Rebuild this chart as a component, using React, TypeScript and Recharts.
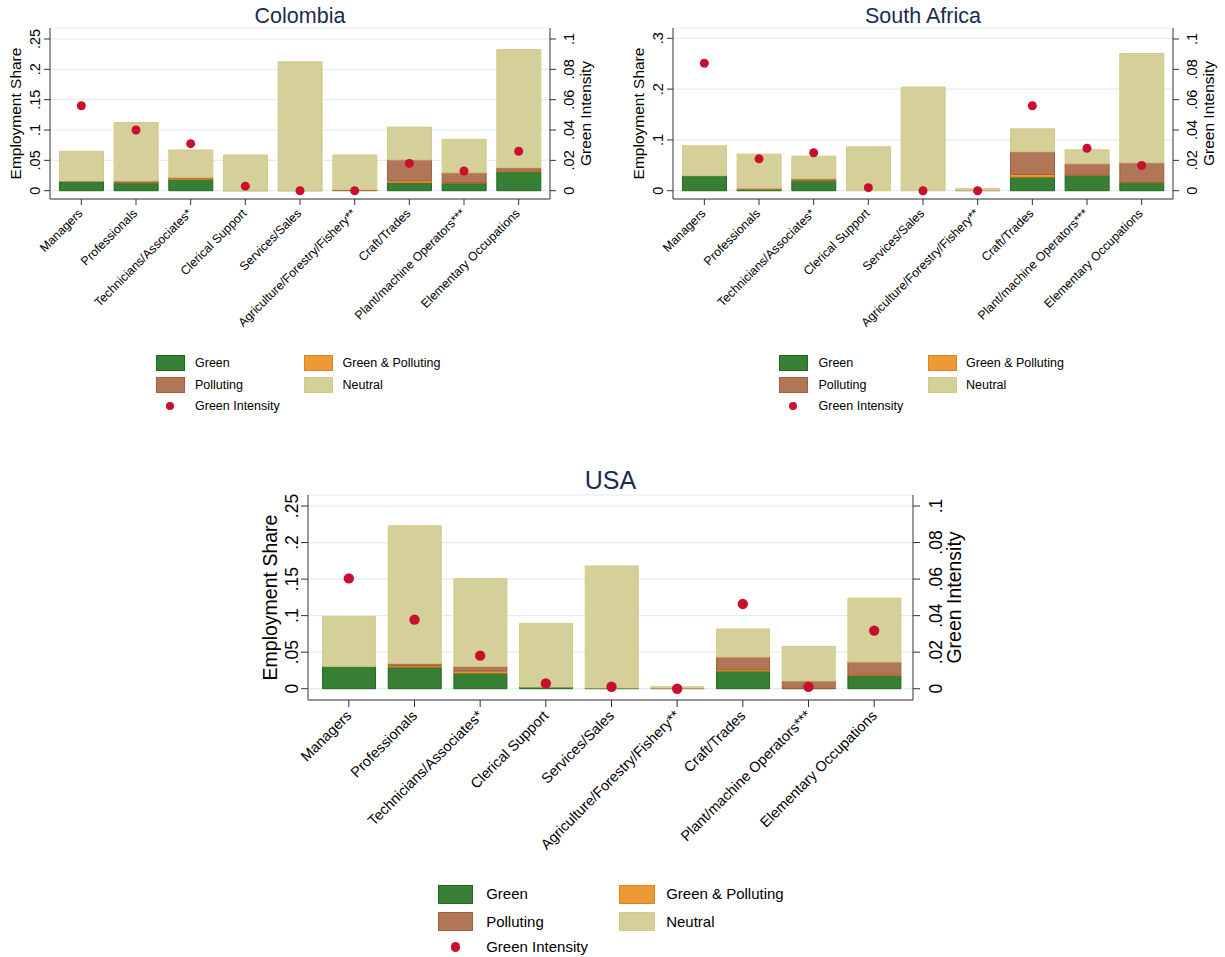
import React from "react";
import { ComposedChart, Bar, Scatter, XAxis, YAxis, CartesianGrid } from "recharts";

const occupations = [
  "Managers",
  "Professionals",
  "Technicians/Associates*",
  "Clerical Support",
  "Services/Sales",
  "Agriculture/Forestry/Fishery**",
  "Craft/Trades",
  "Plant/machine Operators***",
  "Elementary Occupations",
];

// Colombia: employment shares by type, green intensity on the right axis
const colGreen = [0.015, 0.013, 0.019, 0.0005, 0.0005, 0, 0.0136, 0.0126, 0.0317];
const colGreenPolluting = [0, 0.001, 0.002, 0, 0, 0, 0.0028, 0.001, 0.001];
const colPolluting = [0.001, 0.002, 0.001, 0, 0, 0.002, 0.0344, 0.016, 0.0053];
const colNeutral = [0.049, 0.0964, 0.0451, 0.0585, 0.2118, 0.057, 0.054, 0.055, 0.1945];
const colIntensity = [0.056, 0.04, 0.031, 0.003, 0, 0, 0.018, 0.013, 0.026];

// South Africa
const zafGreen = [0.0295, 0.003, 0.0196, 0, 0, 0, 0.0268, 0.0308, 0.0157];
const zafGreenPolluting = [0, 0.001, 0.001, 0, 0, 0, 0.0052, 0.0005, 0.0005];
const zafPolluting = [0, 0.001, 0.003, 0, 0, 0.001, 0.0446, 0.0217, 0.0388];
const zafNeutral = [0.0589, 0.067, 0.0444, 0.0864, 0.204, 0.003, 0.0452, 0.0275, 0.215];
const zafIntensity = [0.084, 0.021, 0.025, 0.002, 0, 0, 0.056, 0.028, 0.0166];

// USA
const usaGreen = [0.0306, 0.0297, 0.0214, 0.0023, 0.001, 0, 0.0242, 0.0005, 0.0182];
const usaGreenPolluting = [0, 0.0019, 0.0028, 0, 0, 0, 0.0018, 0, 0.0005];
const usaPolluting = [0, 0.0031, 0.0064, 0, 0, 0.001, 0.0173, 0.01, 0.0178];
const usaNeutral = [0.0684, 0.1883, 0.1199, 0.0871, 0.167, 0.0017, 0.0384, 0.0475, 0.0875];
const usaIntensity = [0.0604, 0.0378, 0.0181, 0.0029, 0.0011, 0, 0.0464, 0.0011, 0.0318];

const shareTicks = [0, 0.05, 0.1, 0.15, 0.2, 0.25];
const shareTicksZaf = [0, 0.1, 0.2, 0.3];
const intensityTicks = [0, 0.02, 0.04, 0.06, 0.08, 0.1];

const GREEN = "#367f34";
const GREEN_EDGE = "#1f6a1f";
const GP = "#ec9a36";
const GP_EDGE = "#e2821c";
const POLL = "#b07657";
const POLL_EDGE = "#a65d3d";
const NEUTRAL = "#d5cf9a";
const NEUTRAL_EDGE = "#d3ca88";
const DOT = "#c8102e";
const GRID = "#e4ecef";
const AXIS = "#333";
const TITLE = "#1a2c4e";
const FONT = "'Liberation Sans', Arial, Helvetica, sans-serif";

type Row = {
  name: string;
  green: number;
  greenPolluting: number;
  polluting: number;
  neutral: number;
  intensity: number;
};

function buildRows(g: number[], gp: number[], p: number[], n: number[], gi: number[]): Row[] {
  return occupations.map((name, i) => ({
    name,
    green: g[i],
    greenPolluting: gp[i],
    polluting: p[i],
    neutral: n[i],
    intensity: gi[i],
  }));
}

const colRows = buildRows(colGreen, colGreenPolluting, colPolluting, colNeutral, colIntensity);
const zafRows = buildRows(zafGreen, zafGreenPolluting, zafPolluting, zafNeutral, zafIntensity);
const usaRows = buildRows(usaGreen, usaGreenPolluting, usaPolluting, usaNeutral, usaIntensity);

// Stata style: no leading zero
const fmt = (v: number) => (v === 0 ? "0" : String(v).replace(/^0\./, "."));

type Geometry = {
  width: number;
  height: number;
  marginTop: number;
  leftWidth: number;
  rightWidth: number;
  xHeight: number;
  padLeft: number;
  padRight: number;
  tickSize: number;
  tickFont: number;
  catFont: number;
  axisTitleFont: number;
  titleFont: number;
  titleY: number;
  rightShift: number;
  leftTitleX: number;
  rightTitleX: number;
  catDx: number;
  dotR: number;
};

const small: Geometry = {
  width: 610,
  height: 340,
  marginTop: 28,
  leftWidth: 50,
  rightWidth: 60,
  xHeight: 141,
  padLeft: 4,
  padRight: 4,
  tickSize: 6,
  tickFont: 14.5,
  catFont: 12.3,
  axisTitleFont: 15.5,
  titleFont: 21.5,
  titleY: 22.5,
  rightShift: 14,
  leftTitleX: 21,
  rightTitleX: 591,
  catDx: -1,
  dotR: 4.5,
};

const large: Geometry = {
  width: 723,
  height: 390,
  marginTop: 15,
  leftWidth: 58,
  rightWidth: 60,
  xHeight: 170,
  padLeft: 8,
  padRight: 6,
  tickSize: 7,
  tickFont: 17.5,
  catFont: 14.5,
  axisTitleFont: 19.5,
  titleFont: 25,
  titleY: 9,
  rightShift: 18,
  leftTitleX: 27,
  rightTitleX: 711,
  catDx: 0,
  dotR: 5.2,
};

type PanelProps = {
  left: number;
  top: number;
  g: Geometry;
  title: string;
  rows: Row[];
  shareDomain: [number, number];
  shareTickValues: number[];
  intensityDomain: [number, number];
};

function Panel({ left, top, g, title, rows, shareDomain, shareTickValues, intensityDomain }: PanelProps) {
  const plotBottom = g.height - g.xHeight;
  const midY = (g.marginTop + plotBottom) / 2;
  const plotMidX = (g.leftWidth + g.width - g.rightWidth) / 2;

  const leftTick = (props: any) => (
    <text
      transform={`translate(${props.x},${props.y}) rotate(-90)`}
      textAnchor="middle"
      fontSize={g.tickFont}
      fontFamily={FONT}
      fill="#000"
    >
      {fmt(props.payload.value)}
    </text>
  );

  const rightTick = (props: any) => (
    <text
      transform={`translate(${props.x + g.rightShift},${props.y}) rotate(-90)`}
      textAnchor="middle"
      fontSize={g.tickFont}
      fontFamily={FONT}
      fill="#000"
    >
      {fmt(props.payload.value)}
    </text>
  );

  const catTick = (props: any) => (
    <text
      transform={`translate(${props.x + g.catDx},${props.y}) rotate(-45)`}
      textAnchor="end"
      dy="0.35em"
      fontSize={g.catFont}
      fontFamily={FONT}
      fill="#000"
    >
      {props.payload.value}
    </text>
  );

  return (
    <div style={{ position: "absolute", left, top, width: g.width, height: g.height }}>
      <ComposedChart
        width={g.width}
        height={g.height}
        data={rows}
        margin={{ top: g.marginTop, right: 0, bottom: 0, left: 0 }}
        barCategoryGap="10%"
      >
        <CartesianGrid yAxisId="left" vertical={false} stroke={GRID} strokeWidth={1.2} />
        <XAxis
          dataKey="name"
          interval={0}
          height={g.xHeight}
          padding={{ left: g.padLeft, right: g.padRight }}
          tickSize={g.tickSize}
          tickMargin={6}
          stroke={AXIS}
          tick={catTick}
        />
        <YAxis
          yAxisId="left"
          type="number"
          width={g.leftWidth}
          domain={shareDomain}
          ticks={shareTickValues}
          interval={0}
          allowDataOverflow
          tickSize={g.tickSize}
          tickMargin={10 - g.tickSize}
          stroke={AXIS}
          tick={leftTick}
        />
        <YAxis
          yAxisId="right"
          orientation="right"
          type="number"
          width={g.rightWidth}
          domain={intensityDomain}
          ticks={intensityTicks}
          interval={0}
          allowDataOverflow
          tickSize={g.tickSize}
          tickMargin={4}
          stroke={AXIS}
          tick={rightTick}
        />
        <Bar yAxisId="left" dataKey="green" stackId="s" fill={GREEN} stroke={GREEN_EDGE} strokeWidth={1} isAnimationActive={false} />
        <Bar yAxisId="left" dataKey="greenPolluting" stackId="s" fill={GP} stroke={GP_EDGE} strokeWidth={1} isAnimationActive={false} />
        <Bar yAxisId="left" dataKey="polluting" stackId="s" fill={POLL} stroke={POLL_EDGE} strokeWidth={1} isAnimationActive={false} />
        <Bar yAxisId="left" dataKey="neutral" stackId="s" fill={NEUTRAL} stroke={NEUTRAL_EDGE} strokeWidth={1} isAnimationActive={false} />
        <Scatter
          yAxisId="right"
          dataKey="intensity"
          fill={DOT}
          isAnimationActive={false}
          shape={(p: any) => <circle cx={p.cx} cy={p.cy} r={g.dotR} fill={DOT} />}
        />
      </ComposedChart>
      <svg
        width={g.width}
        height={g.height}
        style={{ position: "absolute", left: 0, top: 0, overflow: "visible", pointerEvents: "none" }}
      >
        <text x={plotMidX} y={g.titleY} textAnchor="middle" fontSize={g.titleFont} fontFamily={FONT} fill={TITLE}>
          {title}
        </text>
        <text
          transform={`translate(${g.leftTitleX},${midY}) rotate(-90)`}
          textAnchor="middle"
          fontSize={g.axisTitleFont}
          fontFamily={FONT}
          fill="#000"
        >
          Employment Share
        </text>
        <text
          transform={`translate(${g.rightTitleX},${midY}) rotate(-90)`}
          textAnchor="middle"
          fontSize={g.axisTitleFont}
          fontFamily={FONT}
          fill="#000"
        >
          Green Intensity
        </text>
      </svg>
    </div>
  );
}

function KeyBox({ left, top, s, font }: { left: number; top: number; s: number; font: number }) {
  const sw = 29 * s;
  const sh = 15.5 * s;
  const textX = 39.5 * s;
  const col2 = 148.5 * s;
  const row2 = 22.4 * s;
  const dotY = 51 * s;
  const swatch = (x: number, y: number, fill: string, edge: string) => (
    <div
      style={{
        position: "absolute",
        left: x,
        top: y,
        width: sw,
        height: sh,
        boxSizing: "border-box",
        background: fill,
        border: `1px solid ${edge}`,
      }}
    />
  );
  const label = (x: number, yc: number, text: string) => (
    <div
      style={{
        position: "absolute",
        left: x,
        top: yc - 10 * s,
        height: 20 * s,
        lineHeight: `${20 * s}px`,
        fontSize: font,
        fontFamily: FONT,
        whiteSpace: "nowrap",
        color: "#000",
      }}
    >
      {text}
    </div>
  );
  return (
    <div style={{ position: "absolute", left, top }}>
      {swatch(0, 0, GREEN, GREEN_EDGE)}
      {label(textX, sh / 2, "Green")}
      {swatch(col2, 0, GP, GP_EDGE)}
      {label(col2 + textX - 1 * s, sh / 2, "Green & Polluting")}
      {swatch(0, row2, POLL, POLL_EDGE)}
      {label(textX, row2 + sh / 2, "Polluting")}
      {swatch(col2, row2, NEUTRAL, NEUTRAL_EDGE)}
      {label(col2 + textX - 1 * s, row2 + sh / 2, "Neutral")}
      <div
        style={{
          position: "absolute",
          left: 14.3 * s - 4 * s,
          top: dotY - 4 * s,
          width: 8 * s,
          height: 8 * s,
          borderRadius: "50%",
          background: DOT,
        }}
      />
      {label(textX, dotY, "Green Intensity")}
    </div>
  );
}

export default function App() {
  return (
    <div
      style={{
        position: "absolute",
        left: 0,
        top: 0,
        width: 1225,
        height: 957,
        background: "#fff",
        overflow: "hidden",
      }}
    >
      <Panel
        left={0}
        top={0}
        g={small}
        title="Colombia"
        rows={colRows}
        shareDomain={[-0.01368, 0.2681]}
        shareTickValues={shareTicks}
        intensityDomain={[-0.00547, 0.10725]}
      />
      <Panel
        left={623}
        top={0}
        g={small}
        title="South Africa"
        rows={zafRows}
        shareDomain={[-0.01634, 0.3203]}
        shareTickValues={shareTicksZaf}
        intensityDomain={[-0.00547, 0.10725]}
      />
      <Panel
        left={250}
        top={480}
        g={large}
        title="USA"
        rows={usaRows}
        shareDomain={[-0.01546, 0.2651]}
        shareTickValues={shareTicks}
        intensityDomain={[-0.00618, 0.10603]}
      />
      <KeyBox left={155.5} top={355} s={1} font={12.5} />
      <KeyBox left={779} top={355} s={1} font={12.5} />
      <KeyBox left={438} top={885} s={1.22} font={15} />
    </div>
  );
}
